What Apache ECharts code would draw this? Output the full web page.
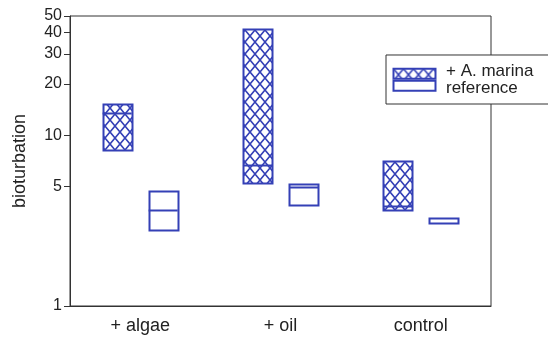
<!DOCTYPE html>
<html><head><meta charset="utf-8">
<script src="https://cdn.jsdelivr.net/npm/echarts@6/dist/echarts.min.js"></script>
<style>html,body{margin:0;padding:0;background:#fff}#c{width:548px;height:341px}</style>
</head><body><div id="c"></div>
<script>
var categories = ['+ algae', '+ oil', 'control'];
var seriesNames = ['+ A. marina', 'reference'];
var marinaLow = [8.2, 5.25, 3.66];
var marinaHigh = [15.2, 41.8, 7.1];
var marinaMedian = [13.6, 6.7, 3.87];
var refLow = [2.78, 3.92, 3.06];
var refHigh = [4.69, 5.2, 3.29];
var refMedian = [3.66, 4.98, null];
var yTicks = [1, 5, 10, 20, 30, 40, 50];

var BLUE = '#3440b6';
function makePattern() {
  var c = document.createElement('canvas');
  c.width = 10; c.height = 12;
  var g = c.getContext('2d');
  g.strokeStyle = BLUE; g.lineWidth = 1.6;
  g.beginPath();
  g.moveTo(-1, -1.2); g.lineTo(11, 13.2);
  g.moveTo(11, -1.2); g.lineTo(-1, 13.2);
  g.stroke();
  return {image: c, repeat: 'repeat'};
}
var hatch = makePattern();

function buildData(low, high, med) {
  return categories.map(function (c, i) { return [i, low[i], high[i], med[i] == null ? 0 : med[i]]; });
}
function makeRender(offsetFrac, fill) {
  return function (params, api) {
    var idx = api.value(0), lo = api.value(1), hi = api.value(2), md = api.value(3);
    var band = api.coord([1, 1])[0] - api.coord([0, 1])[0];
    var cx = api.coord([idx, lo])[0] + offsetFrac * band;
    var w = band * 0.207;
    var yb = api.coord([idx, lo])[1], yt = api.coord([idx, hi])[1];
    var children = [{
      type: 'rect',
      shape: {x: Math.round(cx - w / 2) + 0.5, y: Math.round(yt) + 0.5, width: Math.round(w), height: Math.round(yb - yt)},
      style: {fill: fill, stroke: BLUE, lineWidth: 2}
    }];
    if (md > 0) {
      var ym = Math.round(api.coord([idx, md])[1]) + 0.5;
      children.push({type: 'line', shape: {x1: cx - w / 2, y1: ym, x2: cx + w / 2, y2: ym}, style: {stroke: BLUE, lineWidth: 2}});
    }
    return {type: 'group', children: children};
  };
}

var chart = echarts.init(document.getElementById('c'), null, {renderer: 'canvas'});
chart.setOption({
  animation: false,
  backgroundColor: '#fff',
  textStyle: {fontFamily: 'Liberation Sans, Arial, sans-serif'},
  grid: {left: 70, right: 57, top: 16, bottom: 35, show: true, borderColor: '#333', borderWidth: 1},
  title: {
    text: seriesNames.join('\n'), left: 446, top: 63.5, padding: 0, z: 10,
    textStyle: {fontSize: 17, fontWeight: 'normal', color: '#222', lineHeight: 16.5, fontFamily: 'Liberation Sans, Arial, sans-serif'}
  },
  legend: {
    orient: 'vertical', left: 386, top: 55, selectedMode: false,
    padding: [12.7, 120, 12.3, 6.5], itemGap: 0, itemWidth: 42, itemHeight: 10,
    backgroundColor: '#fff', borderColor: '#333', borderWidth: 1, borderRadius: 0,
    formatter: function () { return ''; },
    data: [
      {name: seriesNames[0], icon: 'rect', itemStyle: {color: hatch, borderColor: BLUE, borderWidth: 2}},
      {name: seriesNames[1], icon: 'rect', itemStyle: {color: '#fff', borderColor: BLUE, borderWidth: 2}}
    ]
  },
  xAxis: {
    type: 'category', data: categories, boundaryGap: true,
    axisLine: {lineStyle: {color: '#333'}}, axisTick: {show: false},
    axisLabel: {fontSize: 18, color: '#222', margin: 11}
  },
  yAxis: {
    type: 'log', logBase: 10, min: 1, max: 50,
    name: 'bioturbation', nameLocation: 'middle', nameGap: 41, nameRotate: 90,
    nameTextStyle: {fontSize: 18, color: '#222'},
    axisLine: {show: true, lineStyle: {color: '#333'}},
    axisTick: {show: true, length: 6, lineStyle: {color: '#333'}, customValues: yTicks},
    axisLabel: {fontSize: 16, color: '#222', margin: 8, customValues: yTicks},
    splitLine: {show: false}, minorTick: {show: false}
  },
  series: [
    {name: seriesNames[0], type: 'custom', renderItem: makeRender(-0.164, hatch), data: buildData(marinaLow, marinaHigh, marinaMedian), encode: {x: 0, y: [1, 2]}},
    {name: seriesNames[1], type: 'custom', renderItem: makeRender(0.164, '#fff'), data: buildData(refLow, refHigh, refMedian), encode: {x: 0, y: [1, 2]}}
  ]
});
</script></body></html>
